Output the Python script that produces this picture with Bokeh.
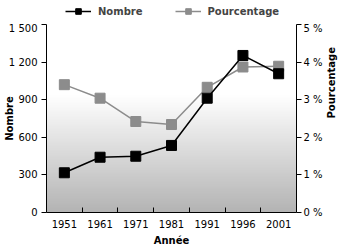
import numpy as np
from bokeh.plotting import figure
from bokeh.layouts import column
from bokeh.models import Range1d, LinearAxis, FixedTicker, Legend, LegendItem
from bokeh.embed import file_html
from bokeh.resources import INLINE

years = ["1951", "1961", "1971", "1981", "1991", "1996", "2001"]
nombre = [317, 441, 449, 535, 912, 1253, 1107]
pourcentage = [3.40, 3.04, 2.42, 2.34, 3.33, 3.87, 3.89]
left_ticks = [0, 300, 600, 900, 1200, 1500]
left_labels = ["0", "300", "600", "900", "1 200", "1 500"]
right_ticks = [0, 1, 2, 3, 4, 5]
right_labels = ["0 %", "1 %", "2 %", "3 %", "4 %", "5 %"]

FONT = "DejaVu Sans"
n = len(years)
xs = [i + 0.5 for i in range(n)]
gray = "#8c8c8c"

p = figure(width=345, height=226, output_backend="svg", toolbar_location=None,
           x_range=Range1d(0, n), y_range=Range1d(0, 1500),
           min_border_left=0, min_border_right=0, min_border_top=2, min_border_bottom=0)
p.extra_y_ranges = {"pct": Range1d(0, 5)}
p.outline_line_color = None
p.xgrid.visible = False
p.ygrid.visible = False
p.background_fill_color = "white"
p.border_fill_color = "white"

# gradient background
H = 200
t = np.linspace(0, 1, H)  # 0 bottom, 1 top
frac = np.clip((0.62 - t) / 0.62, 0, 1)
g = (255 - frac * 75).astype(np.uint8)
img = np.zeros((H, 1), dtype=np.uint32)
view = img.view(dtype=np.uint8).reshape((H, 1, 4))
view[:, 0, 0] = g
view[:, 0, 1] = g
view[:, 0, 2] = g
view[:, 0, 3] = 255
p.image_rgba(image=[img], x=0, y=0, dw=n, dh=1500)

p.line(xs, [v * 300 for v in pourcentage], line_color=gray, line_width=1.5)
p.scatter(xs, [v * 300 for v in pourcentage], marker="square", size=10,
          fill_color=gray, line_color=gray)
p.line(xs, nombre, line_color="black", line_width=1.5)
p.scatter(xs, nombre, marker="square", size=10, fill_color="black", line_color="black")

# x axis
xa = p.xaxis[0]
xa.ticker = FixedTicker(ticks=xs, minor_ticks=list(range(1, n)))
xa.major_label_overrides = {x: y for x, y in zip(xs, years)}
xa.major_tick_in = 0
xa.major_tick_out = 0
xa.minor_tick_in = 5
xa.minor_tick_out = 0
xa.minor_tick_line_color = "black"
xa.axis_label = "Année"

# left axis
ya = p.yaxis[0]
ya.ticker = FixedTicker(ticks=left_ticks)
ya.major_label_overrides = {k: v for k, v in zip(left_ticks, left_labels)}
ya.minor_tick_line_color = None
ya.major_tick_in = 0
ya.major_tick_out = 5
ya.axis_label = "Nombre"

ra = LinearAxis(y_range_name="pct", axis_label="Pourcentage")
ra.ticker = FixedTicker(ticks=right_ticks)
ra.major_label_overrides = {k: v for k, v in zip(right_ticks, right_labels)}
ra.minor_tick_line_color = None
ra.major_tick_in = 0
ra.major_tick_out = 5
p.add_layout(ra, "right")

for ax in [xa, ya, ra]:
    ax.axis_line_color = "black"
    ax.major_tick_line_color = "black"
    ax.major_label_text_font = FONT
    ax.major_label_text_font_size = "10px"
    ax.major_label_text_color = "black"
    ax.axis_label_text_font = FONT
    ax.axis_label_text_font_size = "10px"
    ax.axis_label_text_font_style = "bold"
    ax.axis_label_text_color = "black"
    ax.axis_label_standoff = 4
    ax.major_label_standoff = 4
ya.axis_label_standoff = -9
ra.major_label_standoff = 2
ra.axis_label_standoff = 6
ra.axis_label_orientation = np.pi / 2
xa.major_label_standoff = 7

# legend strip (its series lie outside its own visible range)
lf = figure(width=345, height=22, output_backend="svg", toolbar_location=None,
            x_range=Range1d(0, n), y_range=Range1d(5000, 5001),
            min_border=0)
lf.axis.visible = False
lf.grid.visible = False
lf.outline_line_color = None
l_nl = lf.line(xs, nombre, line_color="black", line_width=1.5)
l_nm = lf.scatter(xs, nombre, marker="square", size=10, fill_color="black", line_color="black")
l_pl = lf.line(xs, pourcentage, line_color=gray, line_width=1.5)
l_pm = lf.scatter(xs, pourcentage, marker="square", size=10, fill_color=gray, line_color=gray)
legend = Legend(items=[LegendItem(label="Nombre", renderers=[l_nl, l_nm]),
                       LegendItem(label="Pourcentage", renderers=[l_pl, l_pm])],
                orientation="horizontal", location=(19, 4),
                border_line_color=None, background_fill_alpha=0,
                label_text_font=FONT, label_text_font_size="10px",
                label_text_font_style="bold", glyph_width=26, glyph_height=14,
                spacing=32, label_standoff=7, padding=2, margin=0)
lf.add_layout(legend)

layout = column(lf, p, spacing=0)
open("out.html", "w").write(file_html(layout, INLINE))
